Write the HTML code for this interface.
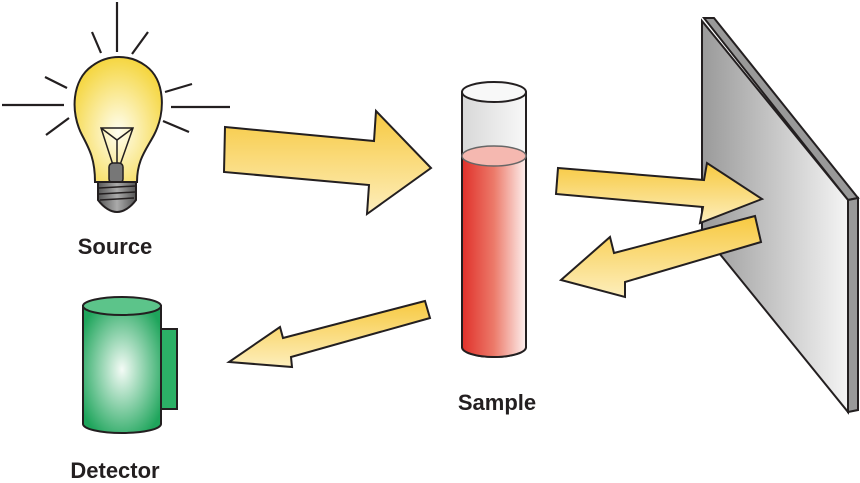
<!DOCTYPE html>
<html><head><meta charset="utf-8"><style>body{margin:0;background:#fff}svg{display:block}text{font-family:"Liberation Sans",Arial,sans-serif;font-weight:bold;font-size:22px;fill:#231f20}</style></head><body>
<svg width="860" height="483" viewBox="0 0 860 483" xmlns="http://www.w3.org/2000/svg">
<defs>
<linearGradient id="ar" x1="0" y1="0" x2="0" y2="1"><stop offset="0" stop-color="#f7c940"/><stop offset="1" stop-color="#fdeebc"/></linearGradient>
<linearGradient id="mir" x1="0" y1="0" x2="1" y2="0"><stop offset="0" stop-color="#9a9a9a"/><stop offset="1" stop-color="#f4f4f4"/></linearGradient>
<linearGradient id="liq" x1="0" y1="0" x2="1" y2="0"><stop offset="0" stop-color="#e0302a"/><stop offset="0.5" stop-color="#ec7a6a"/><stop offset="1" stop-color="#fdf0ee"/></linearGradient>
<linearGradient id="glass" x1="0" y1="0" x2="1" y2="0"><stop offset="0" stop-color="#d8d8d8"/><stop offset="1" stop-color="#f8f8f8"/></linearGradient>
<radialGradient id="bulb" cx="0.5" cy="0.6" r="0.6"><stop offset="0" stop-color="#fffef0"/><stop offset="1" stop-color="#f5d640"/></radialGradient>
<radialGradient id="det" cx="0.5" cy="0.5" r="0.6"><stop offset="0" stop-color="#f4fbf6"/><stop offset="1" stop-color="#1fa55c"/></radialGradient>
<linearGradient id="base" x1="0" y1="0" x2="1" y2="0"><stop offset="0" stop-color="#555"/><stop offset="0.5" stop-color="#aaa"/><stop offset="1" stop-color="#555"/></linearGradient>
</defs>
<g stroke="#231f20" stroke-width="2" stroke-linejoin="miter">
<!-- mirror -->
<polygon points="704,18 714,18 858,198 848,200" fill="#999"/>
<polygon points="848,200 858,198 858,410 848,412" fill="#999"/>
<polygon points="702,21 848,200 848,412 702,232" fill="url(#mir)"/>
<!-- rays -->
<g stroke-width="2.2">
<line x1="117" y1="2" x2="117" y2="52"/><line x1="92" y1="32" x2="101" y2="53"/><line x1="148" y1="32" x2="132" y2="54"/>
<line x1="45" y1="77" x2="67" y2="88"/><line x1="2" y1="105" x2="64" y2="105"/><line x1="46" y1="135" x2="69" y2="118"/>
<line x1="165" y1="92" x2="192" y2="84"/><line x1="171" y1="107" x2="230" y2="107"/><line x1="163" y1="121" x2="189" y2="132"/>
</g>
<!-- bulb -->
<path d="M95,182 C95,160 90,150 82,135 C70,112 72,80 92,66 C108,54 130,54 146,66 C165,80 166,112 154,135 C146,150 137,160 137,182 Z" fill="url(#bulb)"/>
<path d="M101,128 L133,128 L120,165 L113,165 Z M101,128 L117,140 L133,128 M117,140 L117,165" fill="none" stroke-width="1.5"/>
<rect x="109" y="163" width="14" height="20" rx="4" fill="#777" stroke-width="1.5"/>
<path d="M98,182 L136,182 L136,200 C130,208 123,212 117,212 C111,212 104,208 98,200 Z" fill="url(#base)"/>
<path d="M99,188 L135,186 M99,194 L135,192 M100,200 L134,198" fill="none" stroke-width="1.5"/>
<!-- arrows -->
<polygon points="225,127 374,141 376,111 431,168 367,214 369,185 224,172" fill="url(#ar)"/>
<polygon points="558,168 704,180 707,163 762,199 700,223 703,207 556,194" fill="url(#ar)"/>
<polygon points="755,216 761,242 625,282 625,297 561,280 610,237 614,253" fill="url(#ar)"/>
<polygon points="425,301 430,318 291,357 292,367 229,362 280,327 283,338" fill="url(#ar)"/>
<!-- tube -->
<path d="M462,92 L462,347 A32,10 0 0 0 526,347 L526,92" fill="url(#glass)"/>
<path d="M462,156 L462,347 A32,10 0 0 0 526,347 L526,156 Z" fill="url(#liq)" stroke="none"/>
<path d="M462,92 L462,347 A32,10 0 0 0 526,347 L526,92" fill="none"/>
<ellipse cx="494" cy="156" rx="32" ry="10" fill="#f5b8b0" stroke="#666" stroke-width="1.5"/>
<ellipse cx="494" cy="92" rx="32" ry="10" fill="#f8f8f8"/>
<!-- detector -->
<rect x="161" y="329" width="16" height="80" fill="#2cb066"/>
<path d="M83,306 L83,424 A39,9 0 0 0 161,424 L161,306 Z" fill="url(#det)"/>
<ellipse cx="122" cy="306" rx="39" ry="9" fill="#5cc48a"/>
</g>
<text x="115" y="254" text-anchor="middle">Source</text>
<text x="497" y="410" text-anchor="middle">Sample</text>
<text x="115" y="478" text-anchor="middle">Detector</text>
</svg>
</body></html>
